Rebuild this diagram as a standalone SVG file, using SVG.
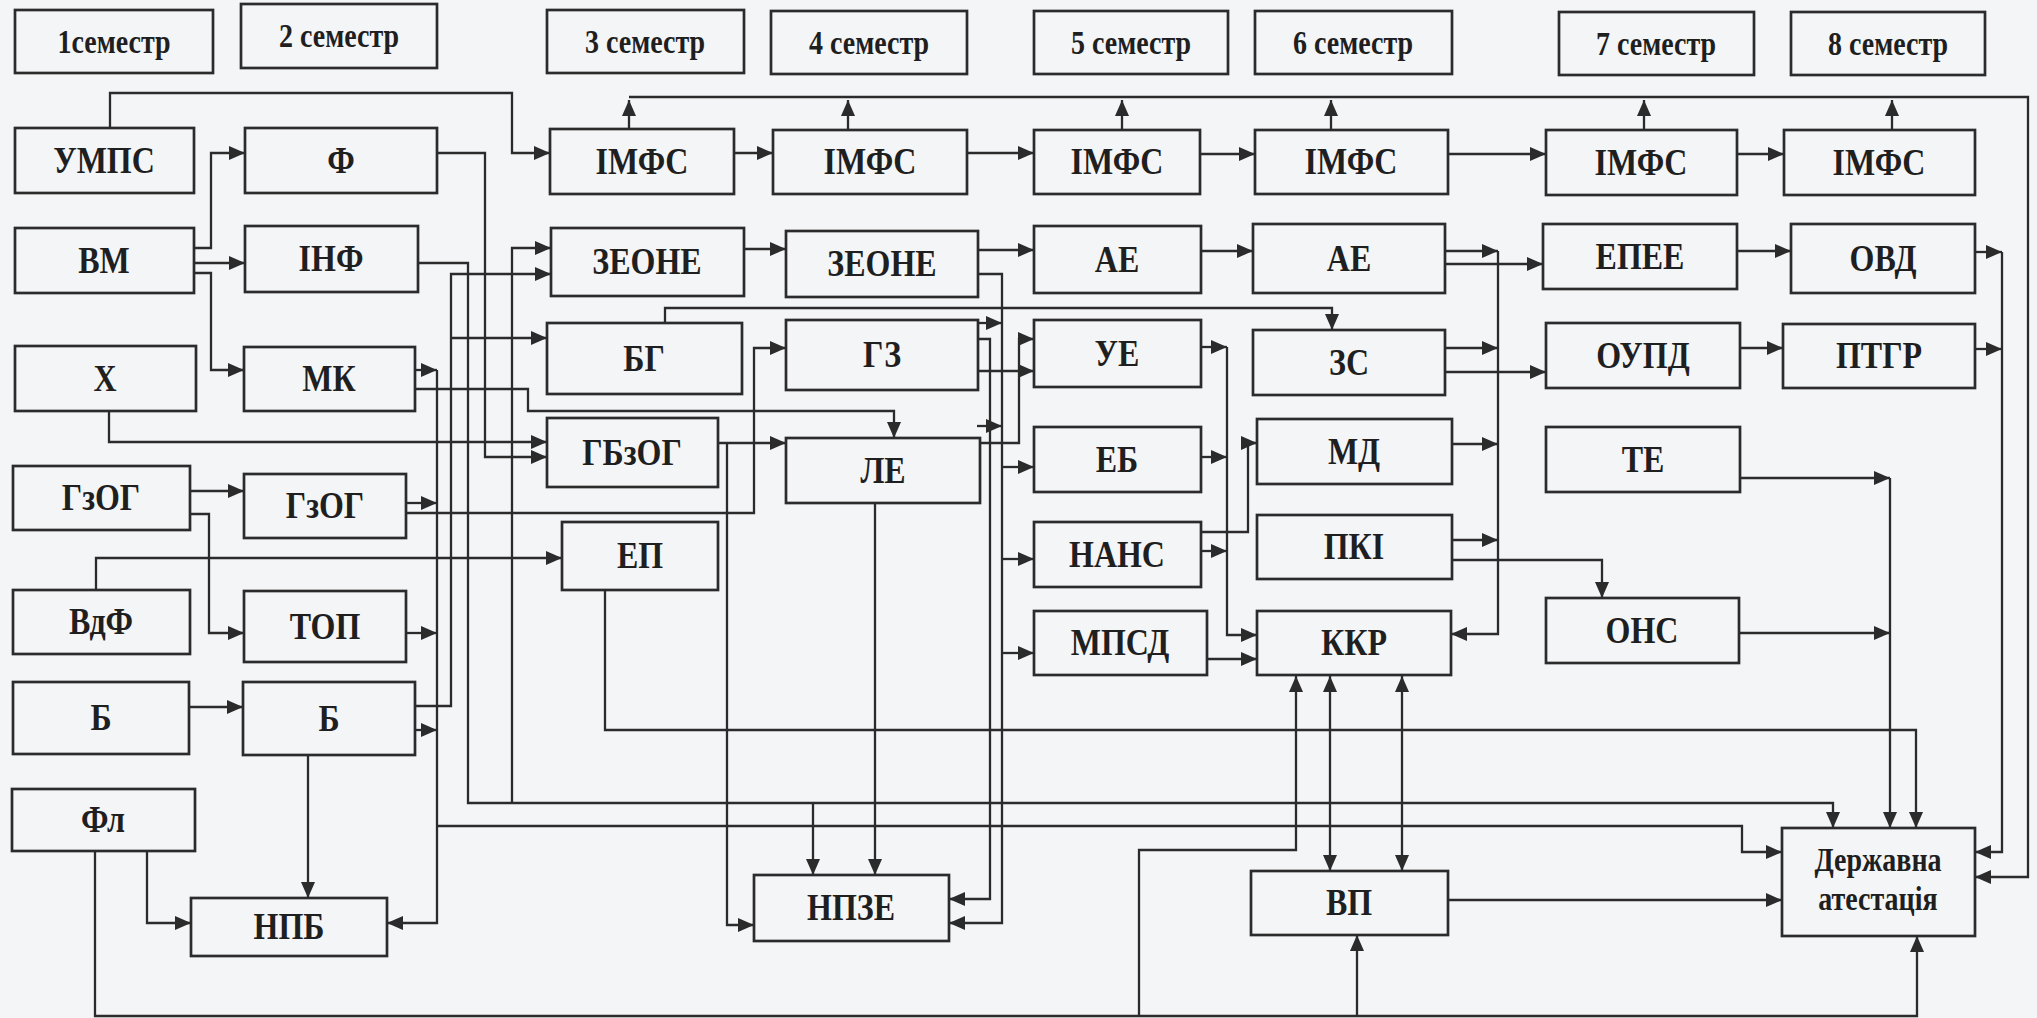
<svg xmlns="http://www.w3.org/2000/svg" width="2037" height="1018" viewBox="0 0 2037 1018">
<style>
.bx{fill:none;stroke:#2b2b2b;stroke-width:2.7}
.t{font-family:"Liberation Serif","Times New Roman",serif;font-weight:bold;font-size:32px;text-anchor:middle;fill:#1f1f1f}
.s{font-size:28px}
.c{fill:none;stroke:#2b2b2b;stroke-width:2.3}
.a{marker-end:url(#ah)}
.d{marker-start:url(#ahs);marker-end:url(#ah)}
</style>
<defs>
<marker id="ah" markerWidth="18" markerHeight="15" refX="16" refY="7" orient="auto" markerUnits="userSpaceOnUse"><path d="M0,0 L16,7 L0,14 z" fill="#2b2b2b"/></marker>
<marker id="ahs" markerWidth="18" markerHeight="15" refX="16" refY="7" orient="auto-start-reverse" markerUnits="userSpaceOnUse"><path d="M0,0 L16,7 L0,14 z" fill="#2b2b2b"/></marker>
</defs>
<rect x="0" y="0" width="2037" height="1018" fill="#f4f5f7"/>

<g id="semesters">
<g id="sem1"><rect class="bx" x="15" y="10" width="198" height="63"/><text class="t s" transform="matrix(1 0 0 1.2 114 53)">1семестр</text></g>
<g id="sem2"><rect class="bx" x="241" y="4" width="196" height="64"/><text class="t s" transform="matrix(1 0 0 1.2 339 47)">2 семестр</text></g>
<g id="sem3"><rect class="bx" x="547" y="10" width="197" height="63"/><text class="t s" transform="matrix(1 0 0 1.2 645 53)">3 семестр</text></g>
<g id="sem4"><rect class="bx" x="771" y="11" width="196" height="63"/><text class="t s" transform="matrix(1 0 0 1.2 869 54)">4 семестр</text></g>
<g id="sem5"><rect class="bx" x="1034" y="11" width="194" height="63"/><text class="t s" transform="matrix(1 0 0 1.2 1131 54)">5 семестр</text></g>
<g id="sem6"><rect class="bx" x="1255" y="11" width="197" height="63"/><text class="t s" transform="matrix(1 0 0 1.2 1353 54)">6 семестр</text></g>
<g id="sem7"><rect class="bx" x="1559" y="12" width="195" height="63"/><text class="t s" transform="matrix(1 0 0 1.2 1656 55)">7 семестр</text></g>
<g id="sem8"><rect class="bx" x="1791" y="12" width="194" height="63"/><text class="t s" transform="matrix(1 0 0 1.2 1888 55)">8 семестр</text></g>
</g>

<g id="connectors">
<path class="c a" d="M110,128 V93 H512 V153 H550"/>
<path class="c a" d="M734,153 H773"/>
<path class="c a" d="M967,153 H1034"/>
<path class="c a" d="M1200,154 H1255"/>
<path class="c a" d="M1448,154 H1546"/>
<path class="c a" d="M1737,154 H1784"/>
<path class="c a" d="M629,129 V100"/>
<path class="c a" d="M848,130 V100"/>
<path class="c a" d="M1122,130 V100"/>
<path class="c a" d="M1331,130 V100"/>
<path class="c a" d="M1644,130 V100"/>
<path class="c a" d="M1892,130 V100"/>
<path class="c a" d="M629,97 H2028 V877 H1975"/>
<path class="c a" d="M194,248 H211 V153 H245"/>
<path class="c a" d="M194,263 H245"/>
<path class="c a" d="M194,273 H211 V370 H244"/>
<path class="c a" d="M744,249 H786"/>
<path class="c a" d="M978,250 H1034"/>
<path class="c a" d="M1201,251 H1253"/>
<path class="c a" d="M1445,251 H1498"/>
<path class="c a" d="M1498,251 V634 H1451"/>
<path class="c a" d="M1445,264 H1543"/>
<path class="c a" d="M1737,251 H1791"/>
<path class="c a" d="M1975,252 H2002"/>
<path class="c a" d="M2002,252 V852 H1975"/>
<path class="c a" d="M1445,348 H1498"/>
<path class="c a" d="M1445,372 H1546"/>
<path class="c a" d="M1740,348 H1783"/>
<path class="c a" d="M1975,349 H2002"/>
<path class="c a" d="M1201,347 H1227"/>
<path class="c a" d="M1227,347 V635 H1257"/>
<path class="c a" d="M1201,457 H1227"/>
<path class="c a" d="M1201,551 H1227"/>
<path class="c a" d="M1201,532 H1248 V443 H1257"/>
<path class="c a" d="M1207,659 H1257"/>
<path class="c a" d="M1452,444 H1498"/>
<path class="c a" d="M1452,540 H1498"/>
<path class="c a" d="M1452,560 H1602 V598"/>
<path class="c a" d="M1740,478 H1890"/>
<path class="c a" d="M1890,478 V828"/>
<path class="c a" d="M1739,633 H1890"/>
<path class="c a" d="M665,323 V308 H1332 V330"/>
<path class="c a" d="M978,323 H1002"/>
<path class="c a" d="M978,339 H990 V899 H949"/>
<path class="c a" d="M978,371 H1034"/>
<path class="c a" d="M978,274 H1002 V923 H949"/>
<path class="c a" d="M1002,467 H1034"/>
<path class="c a" d="M1002,559 H1034"/>
<path class="c a" d="M1002,653 H1034"/>
<path class="c a" d="M977,426 H1002"/>
<path class="c a" d="M980,443 H1019 V339 H1034"/>
<path class="c a" d="M875,503 V875"/>
<path class="c a" d="M718,443 H786"/>
<path class="c a" d="M727,443 V925 H754"/>
<path class="c a" d="M406,513 H754 V348 H786"/>
<path class="c a" d="M406,503 H437"/>
<path class="c a" d="M406,633 H437"/>
<path class="c a" d="M415,730 H437"/>
<path class="c a" d="M415,370 H437"/>
<path class="c a" d="M437,370 V923 H387"/>
<path class="c a" d="M437,826 H1742 V852 H1782"/>
<path class="c a" d="M415,706 H451 V274 H551"/>
<path class="c a" d="M451,338 H547"/>
<path class="c a" d="M418,263 H468 V803 H1833 V828"/>
<path class="c a" d="M813,803 V875"/>
<path class="c a" d="M512,803 V248 H551"/>
<path class="c a" d="M437,153 H485 V457 H547"/>
<path class="c a" d="M109,411 V442 H547"/>
<path class="c a" d="M415,389 H528 V411 H894 V438"/>
<path class="c a" d="M190,491 H244"/>
<path class="c a" d="M190,514 H209 V633 H244"/>
<path class="c a" d="M96,590 V558 H562"/>
<path class="c a" d="M605,590 V730 H1916 V828"/>
<path class="c a" d="M189,707 H243"/>
<path class="c a" d="M308,755 V898"/>
<path class="c a" d="M147,851 V923 H191"/>
<path class="c a" d="M95,851 V1016 H1917 V936"/>
<path class="c a" d="M1139,1016 V850 H1296 V676"/>
<path class="c a" d="M1357,1016 V935"/>
<path class="c d" d="M1330,676 V871"/>
<path class="c d" d="M1402,676 V871"/>
<path class="c a" d="M1448,900 H1782"/>
</g>

<g id="nodes">
<g id="n-umps"><rect class="bx" x="15" y="128" width="179" height="65"/><text class="t" transform="matrix(1 0 0 1.2 104 173)">УМПС</text></g>
<g id="n-f"><rect class="bx" x="245" y="128" width="192" height="65"/><text class="t" transform="matrix(1 0 0 1.2 341 173)">Ф</text></g>
<g id="n-imfs1"><rect class="bx" x="550" y="129" width="184" height="65"/><text class="t" transform="matrix(1 0 0 1.2 642 174)">ІМФС</text></g>
<g id="n-imfs2"><rect class="bx" x="773" y="130" width="194" height="64"/><text class="t" transform="matrix(1 0 0 1.2 870 174)">ІМФС</text></g>
<g id="n-imfs3"><rect class="bx" x="1034" y="130" width="166" height="64"/><text class="t" transform="matrix(1 0 0 1.2 1117 174)">ІМФС</text></g>
<g id="n-imfs4"><rect class="bx" x="1255" y="130" width="193" height="64"/><text class="t" transform="matrix(1 0 0 1.2 1351 174)">ІМФС</text></g>
<g id="n-imfs5"><rect class="bx" x="1546" y="130" width="191" height="65"/><text class="t" transform="matrix(1 0 0 1.2 1641 175)">ІМФС</text></g>
<g id="n-imfs6"><rect class="bx" x="1784" y="130" width="191" height="65"/><text class="t" transform="matrix(1 0 0 1.2 1879 175)">ІМФС</text></g>
<g id="n-vm"><rect class="bx" x="15" y="228" width="179" height="65"/><text class="t" transform="matrix(1 0 0 1.2 104 273)">ВМ</text></g>
<g id="n-inf"><rect class="bx" x="245" y="226" width="173" height="66"/><text class="t" transform="matrix(1 0 0 1.2 331 271)">ІНФ</text></g>
<g id="n-zeone1"><rect class="bx" x="551" y="228" width="193" height="68"/><text class="t" transform="matrix(1 0 0 1.2 647 274)">ЗЕОНЕ</text></g>
<g id="n-zeone2"><rect class="bx" x="786" y="231" width="192" height="66"/><text class="t" transform="matrix(1 0 0 1.2 882 276)">ЗЕОНЕ</text></g>
<g id="n-ae1"><rect class="bx" x="1034" y="226" width="167" height="67"/><text class="t" transform="matrix(1 0 0 1.2 1117 272)">АЕ</text></g>
<g id="n-ae2"><rect class="bx" x="1253" y="224" width="192" height="69"/><text class="t" transform="matrix(1 0 0 1.2 1349 271)">АЕ</text></g>
<g id="n-epee"><rect class="bx" x="1543" y="224" width="194" height="65"/><text class="t" transform="matrix(1 0 0 1.2 1640 269)">ЕПЕЕ</text></g>
<g id="n-ovd"><rect class="bx" x="1791" y="224" width="184" height="69"/><text class="t" transform="matrix(1 0 0 1.2 1883 271)">ОВД</text></g>
<g id="n-kh"><rect class="bx" x="15" y="346" width="181" height="65"/><text class="t" transform="matrix(1 0 0 1.2 105 391)">Х</text></g>
<g id="n-mk"><rect class="bx" x="244" y="347" width="171" height="64"/><text class="t" transform="matrix(1 0 0 1.2 329 391)">МК</text></g>
<g id="n-bg"><rect class="bx" x="547" y="323" width="195" height="71"/><text class="t" transform="matrix(1 0 0 1.2 644 371)">БГ</text></g>
<g id="n-gz"><rect class="bx" x="786" y="320" width="192" height="70"/><text class="t" transform="matrix(1 0 0 1.2 882 367)">ГЗ</text></g>
<g id="n-ue"><rect class="bx" x="1034" y="320" width="167" height="67"/><text class="t" transform="matrix(1 0 0 1.2 1117 366)">УЕ</text></g>
<g id="n-zs"><rect class="bx" x="1253" y="330" width="192" height="65"/><text class="t" transform="matrix(1 0 0 1.2 1349 375)">ЗС</text></g>
<g id="n-oupd"><rect class="bx" x="1546" y="323" width="194" height="65"/><text class="t" transform="matrix(1 0 0 1.2 1643 368)">ОУПД</text></g>
<g id="n-ptgr"><rect class="bx" x="1783" y="324" width="192" height="64"/><text class="t" transform="matrix(1 0 0 1.2 1879 368)">ПТГР</text></g>
<g id="n-gzog1"><rect class="bx" x="13" y="466" width="177" height="64"/><text class="t" transform="matrix(1 0 0 1.2 101 510)">ГзОГ</text></g>
<g id="n-gzog2"><rect class="bx" x="244" y="474" width="162" height="64"/><text class="t" transform="matrix(1 0 0 1.2 325 518)">ГзОГ</text></g>
<g id="n-gbzog"><rect class="bx" x="547" y="418" width="171" height="69"/><text class="t" transform="matrix(1 0 0 1.2 632 465)">ГБзОГ</text></g>
<g id="n-le"><rect class="bx" x="786" y="438" width="194" height="65"/><text class="t" transform="matrix(1 0 0 1.2 883 483)">ЛЕ</text></g>
<g id="n-eb"><rect class="bx" x="1034" y="427" width="167" height="65"/><text class="t" transform="matrix(1 0 0 1.2 1117 472)">ЕБ</text></g>
<g id="n-md"><rect class="bx" x="1257" y="419" width="195" height="65"/><text class="t" transform="matrix(1 0 0 1.2 1354 464)">МД</text></g>
<g id="n-te"><rect class="bx" x="1546" y="427" width="194" height="65"/><text class="t" transform="matrix(1 0 0 1.2 1643 472)">ТЕ</text></g>
<g id="n-ep"><rect class="bx" x="562" y="522" width="156" height="68"/><text class="t" transform="matrix(1 0 0 1.2 640 568)">ЕП</text></g>
<g id="n-vdf"><rect class="bx" x="13" y="590" width="177" height="64"/><text class="t" transform="matrix(1 0 0 1.2 101 634)">ВдФ</text></g>
<g id="n-top"><rect class="bx" x="244" y="591" width="162" height="71"/><text class="t" transform="matrix(1 0 0 1.2 325 639)">ТОП</text></g>
<g id="n-nans"><rect class="bx" x="1034" y="522" width="167" height="65"/><text class="t" transform="matrix(1 0 0 1.2 1117 567)">НАНС</text></g>
<g id="n-pki"><rect class="bx" x="1257" y="515" width="195" height="64"/><text class="t" transform="matrix(1 0 0 1.2 1354 559)">ПКІ</text></g>
<g id="n-mpsd"><rect class="bx" x="1034" y="611" width="173" height="64"/><text class="t" transform="matrix(1 0 0 1.2 1120 655)">МПСД</text></g>
<g id="n-kkr"><rect class="bx" x="1257" y="611" width="194" height="64"/><text class="t" transform="matrix(1 0 0 1.2 1354 655)">ККР</text></g>
<g id="n-ons"><rect class="bx" x="1546" y="598" width="193" height="65"/><text class="t" transform="matrix(1 0 0 1.2 1642 643)">ОНС</text></g>
<g id="n-b1"><rect class="bx" x="13" y="682" width="176" height="72"/><text class="t" transform="matrix(1 0 0 1.2 101 730)">Б</text></g>
<g id="n-b2"><rect class="bx" x="243" y="682" width="172" height="73"/><text class="t" transform="matrix(1 0 0 1.2 329 731)">Б</text></g>
<g id="n-fl"><rect class="bx" x="12" y="789" width="183" height="62"/><text class="t" transform="matrix(1 0 0 1.2 103 832)">Фл</text></g>
<g id="n-npb"><rect class="bx" x="191" y="898" width="196" height="58"/><text class="t" transform="matrix(1 0 0 1.2 289 939)">НПБ</text></g>
<g id="n-npze"><rect class="bx" x="754" y="875" width="195" height="66"/><text class="t" transform="matrix(1 0 0 1.2 851 920)">НПЗЕ</text></g>
<g id="n-vp"><rect class="bx" x="1251" y="871" width="197" height="64"/><text class="t" transform="matrix(1 0 0 1.2 1349 915)">ВП</text></g>
<g id="n-da"><rect class="bx" x="1782" y="828" width="193" height="108"/><text class="t s" transform="matrix(1 0 0 1.2 1878 871)">Державна</text><text class="t s" transform="matrix(1 0 0 1.2 1878 910)">атестація</text></g>
</g>
</svg>
